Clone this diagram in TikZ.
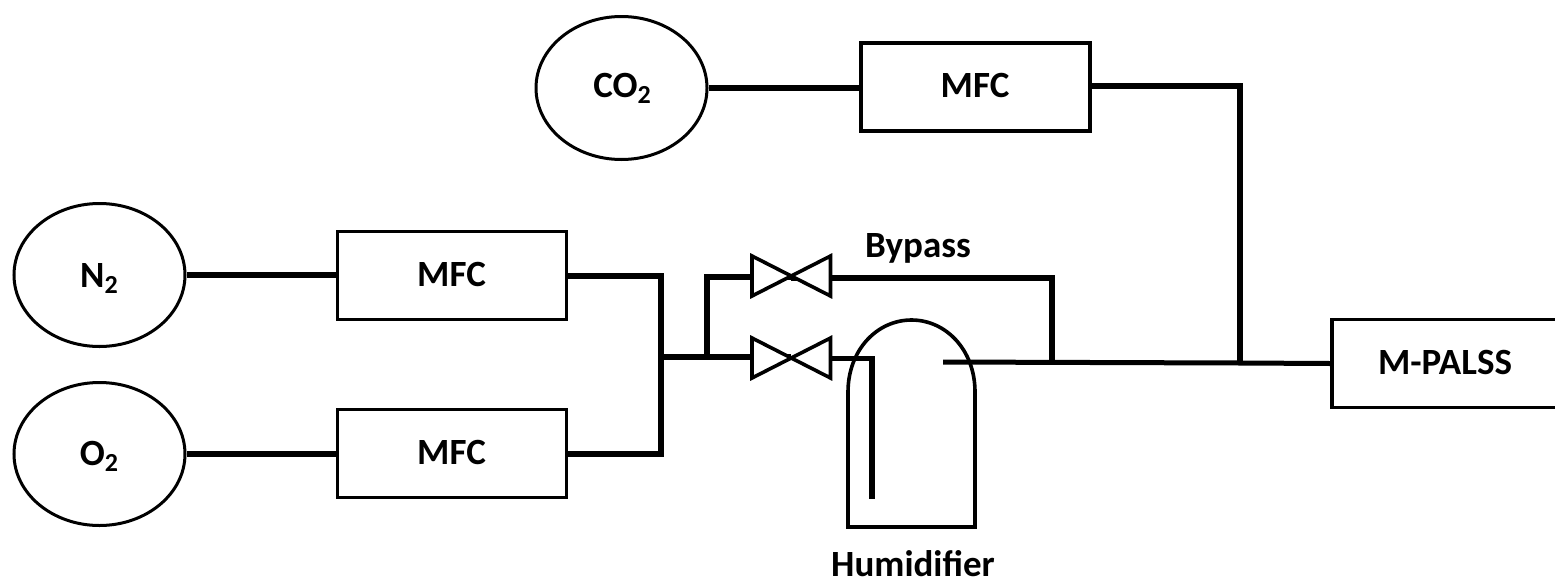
\documentclass[tikz,border=0pt]{standalone}
\usepackage{fontspec}
\setmainfont{Carlito}
\usetikzlibrary{shapes.geometric}
\newcommand{\lowtwo}{\raisebox{-6pt}{\fontsize{26}{26}\selectfont\bfseries 2}}
\tikzset{
  x=1pt,y=-1pt,
  gas/.style={draw,ellipse,line width=3pt,inner sep=0pt,minimum width=171pt,minimum height=143pt},
  box/.style={draw,rectangle,line width=3.6pt,inner sep=0pt,minimum width=229pt,minimum height=88pt},
  lbl/.style={font=\fontsize{37}{40}\selectfont\bfseries,inner sep=0pt,anchor=base},
  pipe/.style={line width=6pt,line join=miter},
  thinpipe/.style={line width=5pt},
  valveshape/.style={line width=3.6pt,fill=white,line join=miter},
  vessel/.style={line width=3.6pt},
}
\begin{document}
\begin{tikzpicture}
\useasboundingbox (0,0) rectangle (1555,581);
\clip (0,0) rectangle (1555,581);
\node[gas] (co2) at (621.5,88) {};
\node[gas] (n2) at (99.5,275) {};
\node[gas] (o2) at (99.5,454) {};
\node[box] (mfcc) at (975.5,87) {};
\node[box] (mfcn) at (452,275.5) {};
\node[box] (mfco) at (452,453.5) {};
\node[box,minimum width=300pt,minimum height=88pt,anchor=west] (pals) at (1330,363.5) {};
\node[lbl] (co2t) at (622,97) {CO\lowtwo};
\node[lbl] (n2t) at (99,287) {N\lowtwo};
\node[lbl] (o2t) at (99,465) {O\lowtwo};
\node[lbl] (mfcct) at (975,97.5) {MFC};
\node[lbl] (mfcnt) at (451.5,286) {MFC};
\node[lbl] (mfcot) at (451.5,464.5) {MFC};
\node[lbl] (palst) at (1445,374) {M-PALSS};
\node[lbl] (byp) at (918,257) {Bypass};
\node[lbl] (hum) at (913,576) {Humidifier};
\coordinate (va) at (791,277);
\coordinate (vb) at (791,357);
\coordinate (bus) at (661,357);
\coordinate (tap) at (707,357);
\coordinate (outa) at (943,362);
\coordinate (join1) at (1052,362);
\coordinate (join2) at (1240,363);
\coordinate (tube) at (872,499);
% pipes
\draw[pipe] (co2.east) -- (co2.east-|mfcc.west);
\draw[pipe] (mfcc.east|-0,86) -- (1240,86) -- (join2);
\draw[pipe] (n2.east) -- (n2.east-|mfcn.west);
\draw[pipe] (o2.east) -- (o2.east-|mfco.west);
\draw[pipe] (mfcn.east) -- (mfcn.east-|bus) -- (mfco.east-|bus) -- (mfco.east);
\draw[pipe] (bus) -- (vb);
\draw[pipe] (tap) -- (tap|-va) -- (va);
\draw[pipe] (791,278) -- (1052,278) -- (join1);
\draw[thinpipe] (outa) -- (join2) -- (pals.west);
% humidifier
\draw[vessel] (848,392) .. controls (848,350) and (877,320) .. (911.5,320) .. controls (946,320) and (975,350) .. (975,392) -- (975,527) -- (848,527) -- cycle;
\draw[thinpipe] (830,358) -- (875,358);
\draw[pipe] (872,356) -- (tube);
% valves
\draw[valveshape] (752,256) -- (830.5,296) -- (830.5,256) -- (752,296) -- cycle;
\draw[valveshape] (752,338) -- (830.5,378) -- (830.5,338) -- (752,378) -- cycle;
\end{tikzpicture}
\end{document}
